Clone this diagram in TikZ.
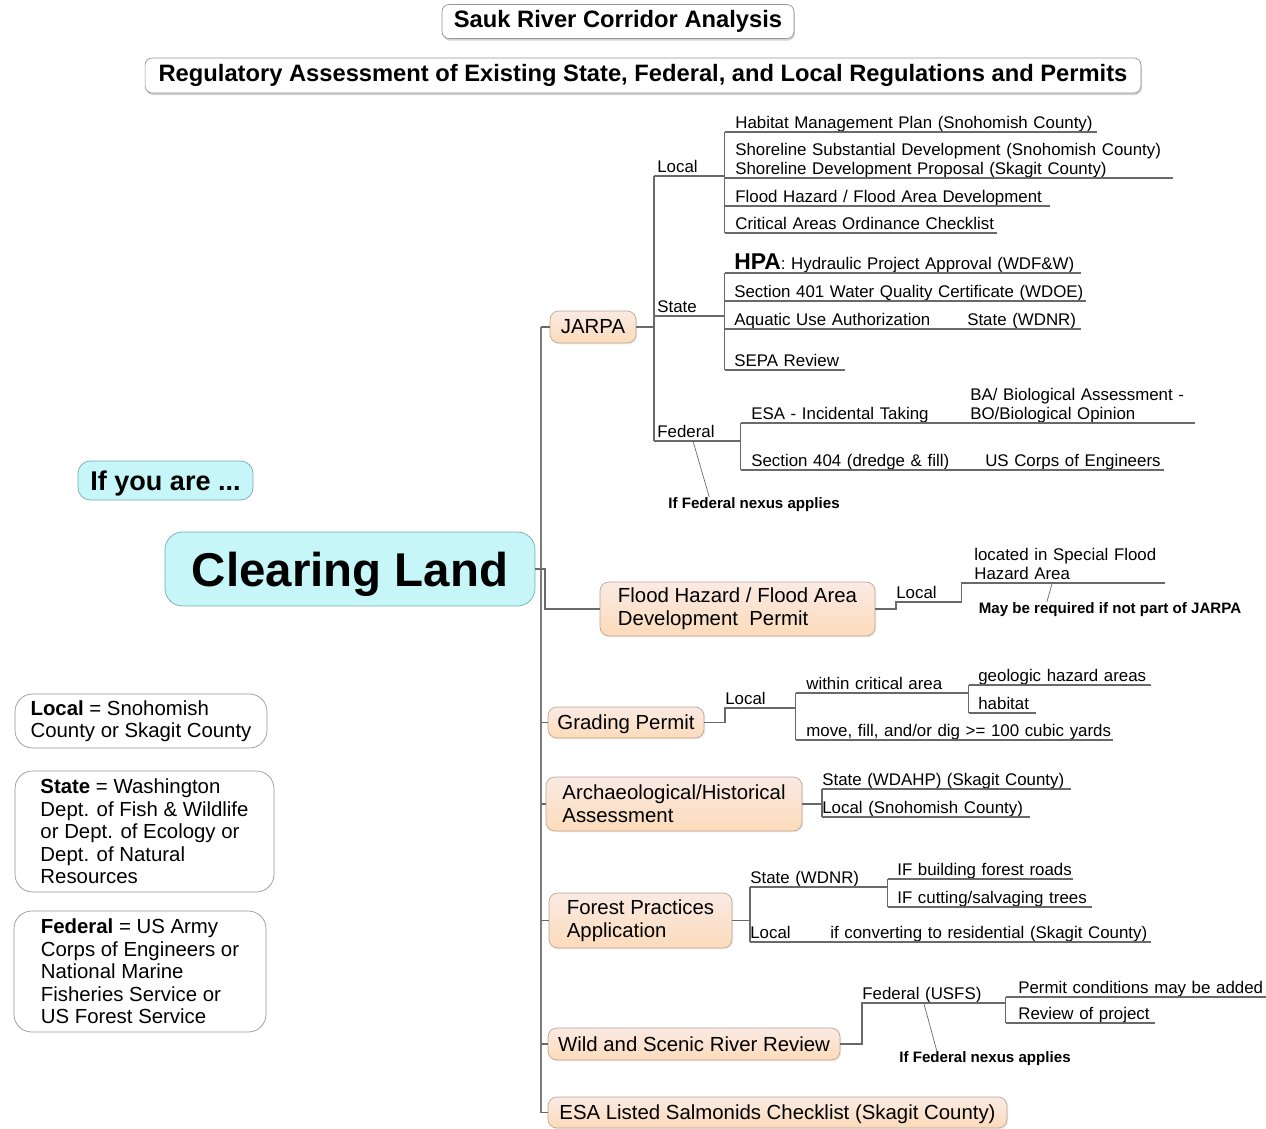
\documentclass[tikz,border=0pt]{standalone}
\usepackage{fontspec}
\setmainfont{Liberation Sans}
\usepackage{tikz}
\usetikzlibrary{calc,shadows}

\definecolor{peachtop}{RGB}{250,234,228}
\definecolor{peachbot}{RGB}{252,219,186}
\definecolor{peachedge}{RGB}{190,165,145}
\definecolor{cyanfill}{RGB}{198,246,248}
\definecolor{cyanedge}{RGB}{115,170,178}
\definecolor{linegray}{RGB}{105,105,105}
\definecolor{trunkgray}{RGB}{125,125,125}
\definecolor{legendedge}{RGB}{150,150,150}

\newcommand{\leaffont}{\fontsize{9.6}{10.8}\selectfont}
\newcommand{\boxfont}{\fontsize{11.6}{13}\selectfont}
\newcommand{\notefont}{\fontsize{8.6}{10}\selectfont\bfseries}

\begin{document}
\begin{tikzpicture}[x=0.02cm, y=-0.02cm,
    title/.style={draw=legendedge, fill=white, rounded corners=4pt, inner sep=0pt,
        font=\fontsize{13.5}{16}\selectfont\bfseries,
        drop shadow={opacity=0.35, shadow xshift=0.5pt, shadow yshift=-1.2pt}},
    topic/.style={draw=cyanedge, fill=cyanfill, rounded corners=7pt, inner sep=0pt, text depth=0pt},
    permit/.style={draw=peachedge, top color=peachtop, bottom color=peachbot,
        rounded corners=5pt, inner sep=0pt, align=left, font=\boxfont,
        drop shadow={opacity=0.15, shadow xshift=0.8pt, shadow yshift=-0.8pt}},
    legend/.style={draw=legendedge, fill=white, rounded corners=10pt, inner sep=0pt,
        align=left, font=\fontsize{11.6}{12.75}\selectfont},
    leaf/.style={anchor=south west, inner sep=0pt, align=left, font=\leaffont,
        execute at end node={\rule[-1.9pt]{0pt}{0pt}}},
    note/.style={inner sep=0pt, font=\notefont},
    branch/.style={draw=linegray, line width=0.6pt},
    trunk/.style={draw=trunkgray, line width=1.3pt}]

    \useasboundingbox (0,0) rectangle (1266,1128);

    % Titles
    \node[title, minimum width=7.04cm, minimum height=0.68cm] (tSauk) at (618,21.5) {Sauk River Corridor Analysis};
    \node[title, minimum width=19.92cm, minimum height=0.7cm] (tReg) at (643,75.5) {Regulatory Assessment of Existing State, Federal, and Local Regulations and Permits};

    % Central topic
    \node[topic, minimum width=3.5cm, minimum height=0.78cm, font=\fontsize{15.4}{18}\selectfont\bfseries] (iIf) at (165.5,480.5) {If you are ...};
    \node[topic, rounded corners=10pt, minimum width=7.4cm, minimum height=1.48cm, font=\fontsize{27}{30}\selectfont\bfseries] (cClear) at (350,569) {Clearing Land};

    % Legend boxes
    \node[legend, minimum width=5.04cm, minimum height=1.08cm] (gLoc) at (141,721) {\textbf{Local} = Snohomish\\County or Skagit County};
    \node[legend, minimum width=5.18cm, minimum height=2.42cm] (gSta) at (144.5,831.5) {\textbf{State} = Washington\\Dept. of Fish \& Wildlife\\or Dept. of Ecology or\\Dept. of Natural\\Resources};
    \node[legend, minimum width=5.04cm, minimum height=2.42cm] (gFed) at (140,971.5) {\textbf{Federal} = US Army\\Corps of Engineers or\\National Marine\\Fisheries Service or\\US Forest Service};

    % Permits on the trunk
    \node[permit, minimum width=1.72cm, minimum height=0.64cm] (jJarpa) at (593,327) {JARPA};
    \node[permit, minimum width=5.5cm, minimum height=1.08cm] (fFlood) at (737.5,609) {Flood Hazard / Flood Area\\Development~ Permit};
    \node[permit, text depth=0pt, minimum width=3.12cm, minimum height=0.62cm] (gGrad) at (626,722.5) {Grading Permit};
    \node[permit, minimum width=5.12cm, minimum height=1.08cm] (aArch) at (674,804) {Archaeological/Historical\\Assessment};
    \node[permit, minimum width=3.66cm, minimum height=1.1cm] (fFor) at (640.5,920.5) {Forest Practices\\Application};
    \node[permit, text depth=0pt, minimum width=5.84cm, minimum height=0.64cm] (wWild) at (694,1044) {Wild and Scenic River Review};
    \node[permit, text depth=0pt, minimum width=9.18cm, minimum height=0.62cm] (eEsa) at (777.5,1112.5) {ESA Listed Salmonids Checklist (Skagit County)};

    % Trunk and branches
    \coordinate (tX) at (541,0);
    \coordinate (fJoin) at (545,0);
    \draw[trunk] (tX |- jJarpa.west) -- (tX |- eEsa.west);
    \draw[branch] (cClear.east) -- (cClear.east -| tX);
    \draw[branch] (cClear.east) -| (fJoin |- fFlood.west) -- (fFlood.west);
    \draw[branch] (tX |- jJarpa.west) -- (jJarpa.west);
    \draw[branch] (tX |- gGrad.west) -- (gGrad.west);
    \draw[branch] (tX |- aArch.west) -- (aArch.west);
    \draw[branch] (tX |- fFor.west) -- (fFor.west);
    \draw[branch] (tX |- wWild.west) -- (wWild.west);
    \draw[branch] (tX |- eEsa.west) -- (eEsa.west);

    % JARPA: Local, State, Federal
    \coordinate (jBr) at (654,0);
    \node[leaf, text width=1.34cm] (cLoc) at (657,176) {Local};
    \node[leaf, text width=1.34cm] (cSta) at (657,316) {State};
    \node[leaf, text width=1.66cm] (cFed) at (657,441) {Federal};
    \draw[branch] (jJarpa.east) -- (jJarpa.east -| jBr);
    \draw[branch] (jBr |- cLoc.south) -- (jBr |- cFed.south);
    \draw[branch] (jBr |- cLoc.south) -- (cLoc.south east);
    \draw[branch] (jBr |- cSta.south) -- (cSta.south east);
    \draw[branch] (jBr |- cFed.south) -- (cFed.south east);

    % JARPA Local
    \node[leaf, text width=7.22cm] (lHab) at (735,132) {Habitat Management Plan (Snohomish County)};
    \node[leaf, text width=8.74cm] (lShore) at (735,178) {Shoreline Substantial Development (Snohomish County)\\Shoreline Development Proposal (Skagit County)};
    \node[leaf, text width=6.28cm] (lFlood) at (735,206) {Flood Hazard / Flood Area Development};
    \node[leaf, text width=5.22cm] (lCrit) at (735,233) {Critical Areas Ordinance Checklist};
    \draw[branch] (cLoc.south east |- lHab.south) -- (cLoc.south east |- lCrit.south);
    \draw[branch] (cLoc.south east |- lHab.south) -- (lHab.south east);
    \draw[branch] (cLoc.south east |- lShore.south) -- (lShore.south east);
    \draw[branch] (cLoc.south east |- lFlood.south) -- (lFlood.south east);
    \draw[branch] (cLoc.south east |- lCrit.south) -- (lCrit.south east);

    % JARPA State
    \node[leaf, text width=6.92cm] (lHpa) at (734,273) {{\fontsize{13}{13}\selectfont\bfseries HPA}: Hydraulic Project Approval (WDF\&W)};
    \node[leaf, text width=7.02cm] (l401) at (734,301) {Section 401 Water Quality Certificate (WDOE)};
    \node[leaf, text width=6.92cm] (lAqua) at (734,329) {\makebox[4.66cm][l]{Aquatic Use Authorization}State (WDNR)};
    \node[leaf, text width=2.2cm] (lSepa) at (734,370) {SEPA Review};
    \draw[branch] (cSta.south east |- lHpa.south) -- (cSta.south east |- lSepa.south);
    \draw[branch] (cSta.south east |- lHpa.south) -- (lHpa.south east);
    \draw[branch] (cSta.south east |- l401.south) -- (l401.south east);
    \draw[branch] (cSta.south east |- lAqua.south) -- (lAqua.south east);
    \draw[branch] (cSta.south east |- lSepa.south) -- (lSepa.south east);

    % JARPA Federal
    \node[leaf, text width=8.86cm] (lEsa) at (751,423) {\makebox[4.38cm][l]{ESA - Incidental Taking}\parbox[b]{4.4cm}{BA/ Biological Assessment -\\BO/Biological Opinion}};
    \node[leaf, text width=8.24cm] (l404) at (751,470) {\makebox[4.68cm][l]{Section 404 (dredge \& fill)}US Corps of Engineers};
    \draw[branch] (cFed.south east |- lEsa.south) -- (cFed.south east |- l404.south);
    \draw[branch] (cFed.south east |- lEsa.south) -- (lEsa.south east);
    \draw[branch] (cFed.south east |- l404.south) -- (l404.south east);
    \node[note] (nNex1) at (754,504.5) {If Federal nexus applies};
    \draw[branch, line width=0.4pt] ($(cFed.south west)!0.43!(cFed.south east)$) -- ($(nNex1.north west)!0.24!(nNex1.north east)$);

    % Flood Hazard permit
    \node[leaf, text width=1.3cm] (cFl) at (896,602) {Local};
    \node[leaf, text width=3.8cm] (lSfha) at (974,583) {located in Special Flood\\Hazard Area};
    \draw[branch] (fFlood.east) -| (cFl.south west) -- (cFl.south east);
    \draw[branch] (cFl.south east) -- (cFl.south east |- lSfha.south) -- (lSfha.south east);
    \node[note] (nMay) at (1110,609.5) {May be required if not part of JARPA};
    \draw[branch, line width=0.4pt] ($(lSfha.south west)!0.41!(lSfha.south east)$) -- ($(nMay.north west)!0.26!(nMay.north east)$);

    % Grading permit
    \node[leaf, text width=1.4cm] (cGr) at (725,708) {Local};
    \node[leaf, text width=3.24cm] (lWithin) at (806,693) {within critical area};
    \node[leaf, text width=6.12cm] (lMove) at (806,740) {move, fill, and/or dig >= 100 cubic yards};
    \node[leaf, text width=3.44cm] (lGeo) at (978,685) {geologic hazard areas};
    \node[leaf, text width=1.14cm] (lHabt) at (978,713) {habitat};
    \draw[branch] (gGrad.east) -| (cGr.south west) -- (cGr.south east);
    \draw[branch] (cGr.south east |- lWithin.south) -- (cGr.south east |- lMove.south);
    \draw[branch] (cGr.south east |- lWithin.south) -- (lWithin.south east);
    \draw[branch] (cGr.south east |- lMove.south) -- (lMove.south east);
    \draw[branch] (lWithin.south east |- lGeo.south) -- (lWithin.south east |- lHabt.south);
    \draw[branch] (lWithin.south east |- lGeo.south) -- (lGeo.south east);
    \draw[branch] (lWithin.south east |- lHabt.south) -- (lHabt.south east);

    % Archaeological assessment
    \node[leaf, text width=4.96cm] (lWdahp) at (822,789) {State (WDAHP) (Skagit County)};
    \node[leaf, text width=4.14cm] (lSnoh) at (822,817) {Local (Snohomish County)};
    \draw[branch] (aArch.east) -- (aArch.east -| lWdahp.south west);
    \draw[branch] (lWdahp.south west) -- (lSnoh.south west);
    \draw[branch] (lWdahp.south west) -- (lWdahp.south east);
    \draw[branch] (lSnoh.south west) -- (lSnoh.south east);

    % Forest practices
    \node[leaf, text width=2.74cm] (cFs) at (750,887) {State (WDNR)};
    \node[leaf, text width=1.52cm] (cFl2) at (750,942) {Local};
    \node[leaf, text width=3.5cm] (lRoads) at (897,879) {IF building forest roads};
    \node[leaf, text width=3.88cm] (lTrees) at (897,907) {IF cutting/salvaging trees};
    \node[leaf, text width=6.4cm] (lConv) at (830,942) {if converting to residential (Skagit County)};
    \draw[branch] (fFor.east) -- (fFor.east -| cFs.south west);
    \draw[branch] (cFs.south west) -- (cFl2.south west);
    \draw[branch] (cFs.south west) -- (cFs.south east);
    \draw[branch] (cFl2.south west) -- (lConv.south east);
    \draw[branch] (cFs.south east |- lRoads.south) -- (cFs.south east |- lTrees.south);
    \draw[branch] (cFs.south east |- lRoads.south) -- (lRoads.south east);
    \draw[branch] (cFs.south east |- lTrees.south) -- (lTrees.south east);

    % Wild and Scenic review
    \node[leaf, text width=2.86cm] (cUsfs) at (862,1003) {Federal (USFS)};
    \node[leaf, text width=4.96cm] (lCond) at (1018,997) {Permit conditions may be added};
    \node[leaf, text width=2.72cm] (lRev) at (1018,1023) {Review of project};
    \draw[branch] (wWild.east) -| (cUsfs.south west) -- (cUsfs.south east);
    \draw[branch] (cUsfs.south east |- lCond.south) -- (cUsfs.south east |- lRev.south);
    \draw[branch] (cUsfs.south east |- lCond.south) -- (lCond.south east);
    \draw[branch] (cUsfs.south east |- lRev.south) -- (lRev.south east);
    \node[note] (nNex2) at (985,1058.5) {If Federal nexus applies};
    \draw[branch, line width=0.4pt] ($(cUsfs.south west)!0.43!(cUsfs.south east)$) -- ($(nNex2.north west)!0.22!(nNex2.north east)$);
\end{tikzpicture}
\end{document}
